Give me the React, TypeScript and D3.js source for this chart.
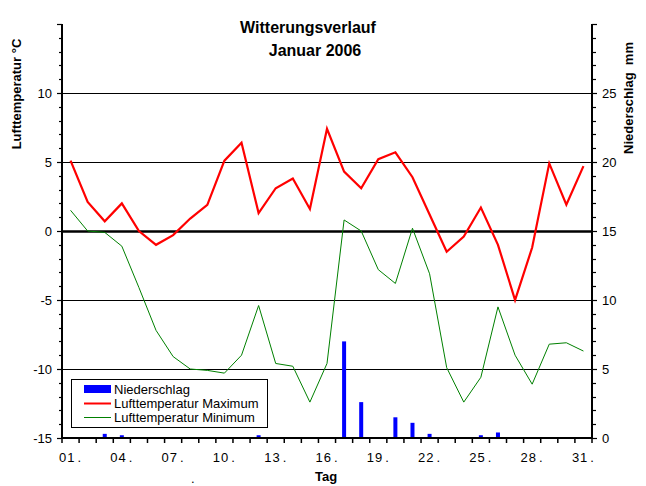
import React from "react";
import * as d3 from "d3";

const days = d3.range(1, 32);
const tMax = [5.1, 2.1, 0.7, 2.0, 0.0, -1.0, -0.3, 0.9, 1.9, 5.1, 6.4, 1.3, 3.1, 3.8, 1.6, 7.4, 4.3, 3.1, 5.2, 5.7, 3.9, 1.2, -1.5, -0.4, 1.7, -1.0, -5.0, -1.2, 4.9, 1.9, 4.7];
const tMin = [1.5, 0.0, -0.1, -1.1, -4.1, -7.2, -9.1, -10.0, -10.1, -10.3, -9.0, -5.4, -9.6, -9.8, -12.4, -9.6, 0.8, 0.0, -2.8, -3.8, 0.2, -3.1, -9.9, -12.4, -10.6, -5.5, -9.0, -11.1, -8.2, -8.1, -8.7];
const precip = [0, 0, 0.3, 0.2, 0, 0, 0, 0, 0, 0, 0, 0.2, 0, 0, 0, 0, 7.0, 2.6, 0, 1.5, 1.1, 0.3, 0, 0, 0.2, 0.4, 0, 0, 0, 0, 0];
const xLabelDays = [1, 4, 7, 10, 13, 16, 19, 22, 25, 28, 31];
const leftTickLabels = [-15, -10, -5, 0, 5, 10];
const rightTickLabels = [0, 5, 10, 15, 20, 25];
const gridValues = [-10, -5, 0, 5, 10];

const W = 646;
const H = 486;
const L = 62;
const R = 592;
const T = 24;
const B = 438;
const FONT = "'Liberation Sans', Arial, sans-serif";

export default function App() {
  const x = d3.scaleBand<number>().domain(days).range([L, R]).padding(0);
  const cx = (d: number) => (x(d) as number) + x.bandwidth() / 2;
  const yT = d3.scaleLinear().domain([-15, 15]).range([B, T]);
  const yP = d3.scaleLinear().domain([0, 30]).range([B, T]);

  const lineMax = d3.line<number>().x((_, i) => cx(days[i])).y((v) => yT(v));
  const lineMin = d3.line<number>().x((_, i) => cx(days[i])).y((v) => yT(v));

  const minorTicks = d3.range(-15, 15.01, 1);
  const xTicks = d3.range(0, 32);

  return (
    <svg width={W} height={H} style={{ position: "absolute", left: 0, top: 0, background: "#fff" }} fontFamily={FONT}>
      <rect x={0} y={0} width={W} height={H} fill="#fff" />
      {/* title */}
      <text x={308} y={33} textAnchor="middle" fontSize={16} fontWeight="bold">Witterungsverlauf</text>
      <text x={315} y={56} textAnchor="middle" fontSize={16} fontWeight="bold">Januar 2006</text>

      {/* gridlines */}
      {gridValues.map((v) => (
        <line key={"g" + v} x1={L} x2={R} y1={Math.round(yT(v)) + 0.5} y2={Math.round(yT(v)) + 0.5} stroke="#000" strokeWidth={v === 0 ? 2.5 : 1.2} />
      ))}

      {/* bars */}
      {precip.map((p, i) =>
        p > 0 ? (
          <rect key={"b" + i} x={cx(days[i]) - 2} y={yP(p)} width={4} height={B - yP(p)} fill="#0000ff" />
        ) : null
      )}

      {/* lines */}
      <path d={lineMin(tMin) || ""} fill="none" stroke="#008000" strokeWidth={1} />
      <path d={lineMax(tMax) || ""} fill="none" stroke="#ff0000" strokeWidth={2.2} />

      {/* axes */}
      <line x1={L} x2={L} y1={T} y2={B + 1} stroke="#000" strokeWidth={2} />
      <line x1={R} x2={R} y1={T} y2={B + 1} stroke="#000" strokeWidth={2} />
      <line x1={L} x2={R} y1={B} y2={B} stroke="#000" strokeWidth={2} />

      {minorTicks.map((v) => {
        const major = v % 5 === 0;
        const y = Math.round(yT(v)) + 0.5;
        return (
          <g key={"t" + v}>
            <line x1={L - (major ? 5 : 3)} x2={L} y1={y} y2={y} stroke="#000" strokeWidth={1.2} />
            <line x1={R} x2={R + (major ? 5 : 4)} y1={y} y2={y} stroke="#000" strokeWidth={1.2} />
          </g>
        );
      })}

      {xTicks.map((k) => {
        const xx = L + k * x.bandwidth();
        return <line key={"xt" + k} x1={xx} x2={xx} y1={B} y2={B + 5} stroke="#000" strokeWidth={1.5} />;
      })}

      {/* tick labels */}
      {leftTickLabels.map((v) => (
        <text key={"lt" + v} x={52} y={yT(v) + 4.5} textAnchor="end" fontSize={13}>{v}</text>
      ))}
      {rightTickLabels.map((v) => (
        <text key={"rt" + v} x={602} y={yP(v) + 4.5} textAnchor="start" fontSize={13}>{v}</text>
      ))}
      {xLabelDays.map((d) => (
        <text key={"xl" + d} x={cx(d)} y={462} textAnchor="middle" fontSize={13} letterSpacing={1}>
          {String(d).padStart(2, "0")}
          <tspan dx={2}>.</tspan>
        </text>
      ))}

      {/* axis titles */}
      <text x={326} y={481} textAnchor="middle" fontSize={13} fontWeight="bold">Tag</text>
      <text x={191} y={483} fontSize={13} fill="#000">.</text>
      <text transform="translate(21,94) rotate(-90)" textAnchor="middle" fontSize={13} fontWeight="bold">Lufttemperatur °C</text>
      <text transform="translate(633,98) rotate(-90)" textAnchor="middle" fontSize={13} fontWeight="bold" style={{ whiteSpace: "pre" }}>{"Niederschlag  mm"}</text>

      {/* legend */}
      <rect x={71.5} y={379.5} width={196} height={48} fill="#fff" stroke="#000" strokeWidth={1} />
      <rect x={84} y={385} width={27} height={8} fill="#0000ff" />
      <line x1={84} x2={111} y1={403.5} y2={403.5} stroke="#ff0000" strokeWidth={2} />
      <line x1={84} x2={111} y1={417.5} y2={417.5} stroke="#008000" strokeWidth={1} />
      <text x={114} y={393.5} fontSize={13}>Niederschlag</text>
      <text x={114} y={408} fontSize={13}>Lufttemperatur Maximum</text>
      <text x={114} y={422} fontSize={13}>Lufttemperatur Minimum</text>
    </svg>
  );
}
